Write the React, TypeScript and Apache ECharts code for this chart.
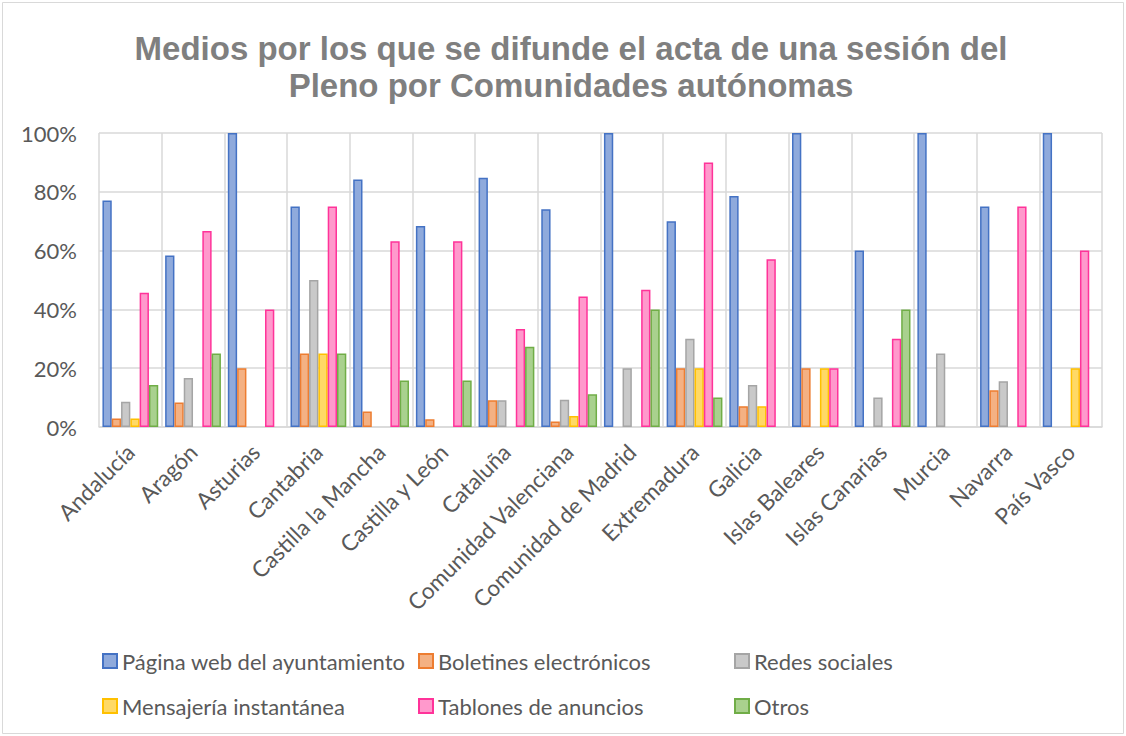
import React, { useEffect, useRef } from "react";
import * as echarts from "echarts";

const categories = [
  "Andalucía", "Aragón", "Asturias", "Cantabria", "Castilla la Mancha", "Castilla y León",
  "Cataluña", "Comunidad Valenciana", "Comunidad de Madrid", "Extremadura", "Galicia",
  "Islas Baleares", "Islas Canarias", "Murcia", "Navarra", "País Vasco",
];

const paginaWeb = [77, 58.3, 100, 75, 84.2, 68.4, 84.8, 74.1, 100, 70, 78.6, 100, 60, 100, 75, 100];
const boletines = [2.9, 8.3, 20, 25, 5.3, 2.6, 9.1, 1.9, null, 20, 7.1, 20, null, null, 12.5, null];
const redes = [8.6, 16.7, null, 50, null, null, 9.1, 9.3, 20, 30, 14.3, null, 10, 25, 15.6, null];
const mensajeria = [2.9, null, null, 25, null, null, null, 3.7, null, 20, 7.1, 20, null, null, null, 20];
const tablones = [45.7, 66.7, 40, 75, 63.2, 63.2, 33.3, 44.4, 46.7, 90, 57.1, 20, 30, null, 75, 60];
const otros = [14.3, 25, null, 25, 15.8, 15.8, 27.3, 11.1, 40, 10, null, null, 40, null, null, null];

const seriesNames = [
  "Página web del ayuntamiento", "Boletines electrónicos", "Redes sociales",
  "Mensajería instantánea", "Tablones de anuncios", "Otros",
];
const seriesData = [paginaWeb, boletines, redes, mensajeria, tablones, otros];
const fills = ["#8FAADC", "#F4B183", "#C9C9C9", "#FFD966", "#FF99CC", "#A9D18E"];
const borders = ["#4472C4", "#ED7D31", "#A5A5A5", "#FFC000", "#FF3399", "#70AD47"];

const yTicks = [0, 20, 40, 60, 80, 100];

const legendPos = [
  { left: 102, top: 650 }, { left: 418, top: 650 }, { left: 734, top: 650 },
  { left: 102, top: 695 }, { left: 418, top: 695 }, { left: 734, top: 695 },
];

export default function App() {
  const ref = useRef<HTMLDivElement>(null);
  useEffect(() => {
    document.body.style.margin = "0";
    const chart = echarts.init(ref.current!, null, { renderer: "svg" });
    const font = "Lato, 'Noto Sans', sans-serif";
    chart.setOption({
      animation: false,
      backgroundColor: "#ffffff",
      title: {
        text: "Medios por los que se difunde el acta de una sesión del\nPleno por Comunidades autónomas",
        left: 566,
        top: 25,
        textAlign: "center",
        textStyle: {
          fontFamily: "'Liberation Sans', Arial, sans-serif",
          fontSize: 33,
          fontWeight: "bold",
          color: "#7F7F7F",
          lineHeight: 37,
        },
      },
      graphic: [
        {
          type: "rect",
          shape: { x: 2.5, y: 2.5, width: 1121, height: 731 },
          style: { fill: "none", stroke: "#D9D9D9", lineWidth: 1 },
          silent: true,
        },
      ],
      legend: seriesNames.map((n, i) => ({
        data: [n],
        left: legendPos[i].left,
        top: legendPos[i].top,
        icon: "rect",
        itemWidth: 14,
        itemHeight: 14,
        itemGap: 0,
        padding: 0,
        textStyle: { fontFamily: font, fontSize: 22, color: "#595959" },
        selectedMode: false,
      })),
      grid: { left: 99, right: 24, top: 133, bottom: 309, containLabel: false },
      xAxis: {
        type: "category",
        data: categories,
        boundaryGap: true,
        axisLine: { lineStyle: { color: "#D9D9D9", width: 1.5 } },
        axisTick: { show: false },
        splitLine: { show: true, interval: 0, lineStyle: { color: "#D9D9D9", width: 1.5 } },
        axisLabel: {
          interval: 0,
          rotate: 45,
          margin: 21,
          fontFamily: font,
          fontSize: 22.5,
          color: "#595959",
        },
      },
      yAxis: {
        type: "value",
        min: yTicks[0],
        max: yTicks[yTicks.length - 1],
        interval: 20,
        axisLine: { show: false },
        axisTick: { show: false },
        splitLine: { lineStyle: { color: "#D9D9D9", width: 1.5 } },
        axisLabel: {
          formatter: "{value}%",
          margin: 22,
          fontFamily: font,
          fontSize: 22,
          color: "#595959",
        },
      },
      series: seriesNames.map((n, i) => ({
        name: n,
        type: "bar",
        data: seriesData[i],
        barGap: "0%",
        barCategoryGap: "11%",
        itemStyle: { color: fills[i], borderColor: borders[i], borderWidth: 1.5 },
      })),
    });
    return () => chart.dispose();
  }, []);
  return (
    <div
      ref={ref}
      style={{ position: "absolute", left: 0, top: 0, width: 1126, height: 736 }}
    />
  );
}
